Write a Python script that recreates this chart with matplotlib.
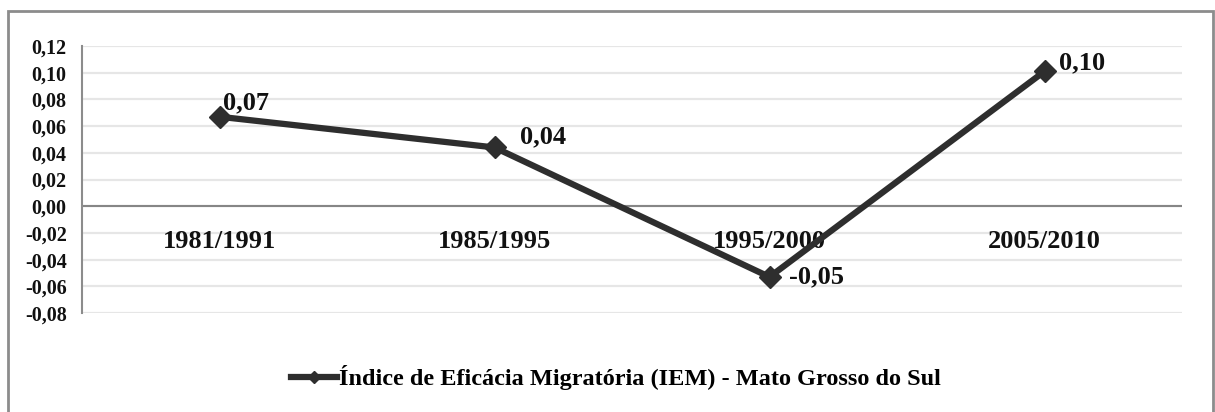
import matplotlib.pyplot as plt
from matplotlib.patches import Rectangle
from matplotlib.ticker import FuncFormatter

periods = ["1981/1991", "1985/1995", "1995/2000", "2005/2010"]
iem = [0.067, 0.044, -0.053, 0.101]
value_labels = ["0,07", "0,04", "-0,05", "0,10"]
series_name = "Índice de Eficácia Migratória (IEM) - Mato Grosso do Sul"

# pixel offsets for the data labels (dx, dy)
label_offsets = [(4, 14), (26, 11), (20, 0), (15, 9)]

plt.rcParams['font.family'] = ['Liberation Serif', 'DejaVu Serif']
plt.rcParams['font.weight'] = 'bold'

fig = plt.figure(figsize=(12.15, 4.12), dpi=100)
ax = fig.add_axes([82 / 1215, 1 - 313 / 412, 1100 / 1215, 267 / 412])

# outer frame
fig.patches.append(Rectangle((8 / 1215, -0.1), 1205 / 1215, 1 - 11 / 412 + 0.1,
                             transform=fig.transFigure, fill=False,
                             edgecolor='#8c8c8c', linewidth=2))

x = list(range(len(periods)))
ax.plot(x, iem, color='#2e2e2e', linewidth=4.5, marker='D', markersize=11,
        zorder=5, label=series_name)

for xi, v, lab, (dx, dy) in zip(x, iem, value_labels, label_offsets):
    ax.annotate(lab, (xi, v), xytext=(dx / 1.389, dy / 1.389), textcoords='offset points',
                ha='left', va='center', fontsize=19, fontweight='bold', color='#111111',
                zorder=6)

for xi, p in zip(x, periods):
    ax.text(xi, -0.0265, p, ha='center', va='center', fontsize=19,
            fontweight='bold', color='#111111', zorder=3)

ax.set_xlim(-0.5, len(periods) - 0.5)
ax.set_ylim(-0.08, 0.12)
ax.set_yticks([i / 100 for i in range(-8, 13, 2)])
ax.yaxis.set_major_formatter(FuncFormatter(lambda v, _: f"{v:.2f}".replace('.', ',').replace('-0,00', '0,00')))
ax.tick_params(axis='y', length=0, pad=11, labelsize=14.5, labelcolor='#111111')
ax.set_xticks([])
ax.grid(axis='y', color='#e6e6e6', linewidth=1.6, zorder=0)
ax.set_axisbelow(True)
ax.axhline(0, color='#868686', linewidth=1.5, zorder=2)

for s in ['top', 'right', 'bottom']:
    ax.spines[s].set_visible(False)
ax.spines['left'].set_color('#8c8c8c')
ax.spines['left'].set_linewidth(1.5)

leg = fig.legend(loc='center', bbox_to_anchor=(616 / 1215, 1 - 378 / 412), frameon=False,
                 prop={'size': 17.5, 'weight': 'bold'}, handlelength=1.9,
                 handletextpad=0.1, markerscale=0.6)

fig.savefig("out.png", dpi=100)
